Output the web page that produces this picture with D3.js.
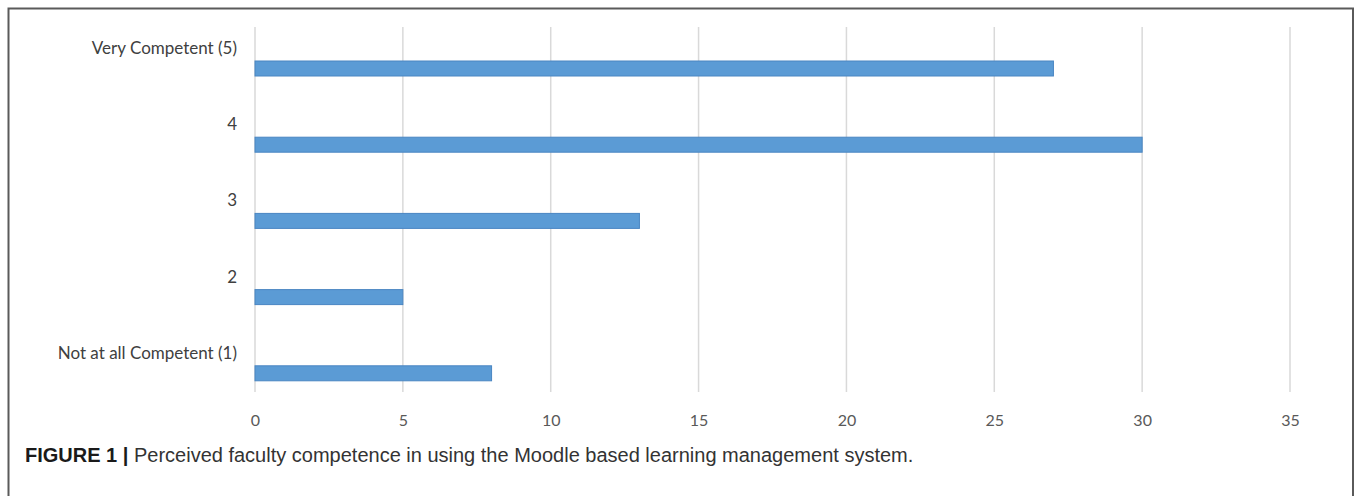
<!DOCTYPE html>
<html>
<head>
<meta charset="utf-8">
<script src="https://cdn.jsdelivr.net/npm/d3@7"></script>
<style>
  html, body { margin: 0; padding: 0; background: #fff; }
  svg { display: block; }
</style>
</head>
<body>
<svg id="chart" width="1357" height="496"></svg>
<script>
const categories = ["Very Competent (5)", "4", "3", "2", "Not at all Competent (1)"];
const values = [27, 30, 13, 5, 8];
const tickValues = [0, 5, 10, 15, 20, 25, 30, 35];
const captionBold = "FIGURE 1 |";
const captionText = " Perceived faculty competence in using the Moodle based learning management system.";

const svg = d3.select("#chart");
const W = 1357, H = 496;

// frame (top, left, right; bottom open)
svg.append("path")
  .attr("d", `M8.5,${H} L8.5,8.5 L1353,8.5 L1353,${H}`)
  .attr("fill", "none")
  .attr("stroke", "#5a5a5a")
  .attr("stroke-width", 2);

const x = d3.scaleLinear().domain([0, 35]).range([255, 1290]);
const y = d3.scalePoint().domain(categories).range([68.5, 373.3]);
const barH = 15;

// gridlines
const grid = svg.append("g");
grid.selectAll("line").data(tickValues).join("line")
  .attr("x1", d => x(d)).attr("x2", d => x(d))
  .attr("y1", 27).attr("y2", 392)
  .attr("stroke", "#d9d9d9").attr("stroke-width", 1.5);

// x axis tick labels
const xAxis = d3.axisBottom(x).tickValues(tickValues).tickSize(0).tickPadding(0);
const gx = svg.append("g").attr("transform", "translate(0,415)").call(xAxis);
gx.select(".domain").remove();
gx.selectAll("text")
  .attr("font-family", "Lato, 'Open Sans', sans-serif")
  .attr("font-size", 16)
  .attr("fill", "#595959");

// bars
svg.append("g").selectAll("rect").data(values).join("rect")
  .attr("x", x(0))
  .attr("y", (d, i) => y(categories[i]) - barH / 2)
  .attr("width", d => x(d) - x(0))
  .attr("height", barH)
  .attr("fill", "#5b9bd5")
  .attr("stroke", "#4a86c2")
  .attr("stroke-width", 1);

// category labels
svg.append("g").selectAll("text").data(categories).join("text")
  .attr("x", 237)
  .attr("y", d => y(d) - 14.5)
  .attr("text-anchor", "end")
  .attr("font-family", "Lato, 'Open Sans', sans-serif")
  .attr("font-size", 17)
  .attr("fill", "#404040")
  .text(d => d);

// caption
const cap = svg.append("text")
  .attr("x", 25).attr("y", 462)
  .attr("font-family", "'Liberation Sans', Arial, sans-serif")
  .attr("font-size", 20);
cap.append("tspan").attr("font-weight", "bold").attr("fill", "#1a1a1a").text(captionBold);
cap.append("tspan").attr("fill", "#333").text(captionText);
</script>
</body>
</html>
